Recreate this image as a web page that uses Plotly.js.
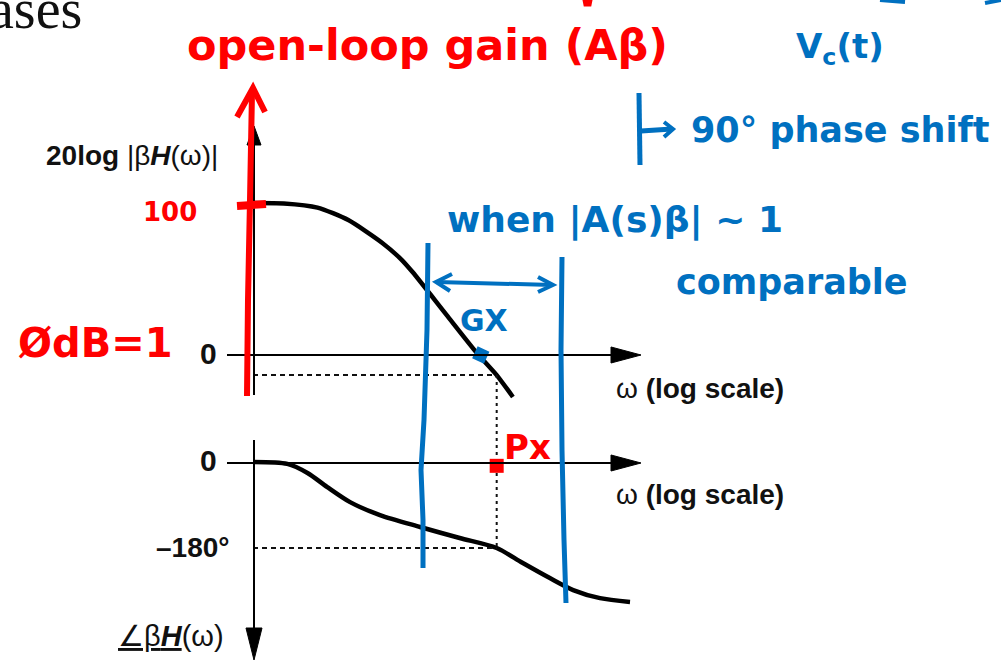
<!DOCTYPE html>
<html>
<head>
<meta charset="utf-8">
<script src="https://cdn.plot.ly/plotly-3.0.1.min.js"></script>
<style>html,body{margin:0;padding:0;background:#fff;}#chart{width:1001px;height:661px;}</style>
</head>
<body>
<div id="chart"></div>
<script>
// ---- data ----
const magOmega = [1, 3, 10, 30, 100, 200, 300, 1000, 3000, 6000, 10700];
const magDb    = [100, 99.7, 97.0, 88.8, 73.9, 62.8, 54.4, 26.4, 1.0, -13.2, -27.6];
const phOmega  = [1, 3.4, 7, 14, 32, 93, 390, 1600, 6000, 15000, 40000, 92000, 240000, 700000];
const phDeg    = [0, -4, -23, -52, -84, -111, -136, -159, -180, -211, -243, -268, -285, -293];
const gainCross = {omega: 3400, db: 0};        // GX
const phaseCross = {omega: 6000, deg: -180, gainDb: -13.2}; // PX
const pxMark = {omega: 6000, deg: -8};

// ---- layout helpers ----
const W = 1001, H = 661;
const magRange = [-201.32, 233.55];
const phRange = [-416.51, 966.97];
const fx = p => p / W;
const fy = p => 1 - p / H;
function pth(pts, close) {
  return pts.map((p, i) => (i ? 'L' : 'M') + fx(p[0]).toFixed(5) + ',' + fy(p[1]).toFixed(5)).join(' ') + (close ? ' Z' : '');
}
// convert a magnitude value to the phase axis value at the same height
function dbToDeg(db) {
  const f = (db - magRange[0]) / (magRange[1] - magRange[0]);
  return phRange[0] + f * (phRange[1] - phRange[0]);
}

const RED = '#ff0000', BLUE = '#0070c0';

const traces = [
  {x: magOmega, y: magDb, mode: 'lines', xaxis: 'x', yaxis: 'y',
   line: {color: '#000', width: 4.5, shape: 'spline', smoothing: 0.6}, hoverinfo: 'skip'},
  {x: phOmega, y: phDeg, mode: 'lines', xaxis: 'x', yaxis: 'y2',
   line: {color: '#000', width: 4.5, shape: 'spline', smoothing: 0.8}, hoverinfo: 'skip'},
  {x: [1, phaseCross.omega], y: [phaseCross.gainDb, phaseCross.gainDb], mode: 'lines', yaxis: 'y',
   line: {color: '#111', width: 2, dash: '5px,4px'}, hoverinfo: 'skip'},
  {x: [1, phaseCross.omega], y: [phaseCross.deg, phaseCross.deg], mode: 'lines', yaxis: 'y2',
   line: {color: '#111', width: 2, dash: '5px,4px'}, hoverinfo: 'skip'},
  {x: [phaseCross.omega, phaseCross.omega], y: [dbToDeg(phaseCross.gainDb), phaseCross.deg], mode: 'lines', yaxis: 'y2',
   line: {color: '#111', width: 2, dash: '3px,4px'}, hoverinfo: 'skip'},
  {x: [gainCross.omega], y: [gainCross.db], mode: 'markers', yaxis: 'y',
   marker: {symbol: 'square', size: 13, color: BLUE, angle: 25}, hoverinfo: 'skip'},
  {x: [pxMark.omega], y: [pxMark.deg], mode: 'markers', yaxis: 'y2',
   marker: {symbol: 'square', size: 14, color: RED}, hoverinfo: 'skip'}
];

function L(pts, color, width, close, fill) {
  return {type: 'path', xref: 'paper', yref: 'paper', path: pth(pts, close),
          line: {color: color, width: width}, fillcolor: fill || 'rgba(0,0,0,0)', layer: 'above'};
}

const shapes = [
  // printed axes
  L([[254,395],[254,140]], '#000', 2),
  L([[247,145],[254,126],[261,145]], '#000', 1, true, '#000'),
  L([[227,355],[615,355]], '#000', 2),
  L([[611,347],[641,355],[611,363]], '#000', 1, true, '#000'),
  L([[227,463],[615,463]], '#000', 2),
  L([[611,455],[641,463],[611,471]], '#000', 1, true, '#000'),
  L([[254,440],[254,632]], '#000', 2),
  L([[246,628],[254,660],[262,628]], '#000', 1, true, '#000'),
  // red handwriting strokes
  L([[247,396],[248,300],[250,200],[252,92]], RED, 6),
  L([[237,117],[253,88],[265,112]], RED, 6),
  L([[237,206],[266,204]], RED, 8),
  L([[584,0],[591,0],[590,5],[585,5]], RED, 3, true, RED),
  // blue handwriting strokes
  L([[428,243],[427,330],[424,420],[421,470],[423,520],[423,568]], BLUE, 5),
  L([[562,257],[561,350],[562,450],[564,540],[566,603]], BLUE, 5),
  L([[437,282],[553,285]], BLUE, 4),
  L([[452,274],[436,282],[450,291]], BLUE, 4),
  L([[538,277],[553,285],[538,292]], BLUE, 4),
  L([[639,93],[640,165]], BLUE, 5),
  L([[641,131],[672,129]], BLUE, 5),
  L([[664,122],[673,129],[664,137]], BLUE, 4),
  L([[880,0],[905,2]], BLUE, 4),
  L([[985,3],[1001,0]], BLUE, 4)
];

function T(text, x, y, size, color, family, extra) {
  return Object.assign({text: text, x: fx(x), y: fy(y), xref: 'paper', yref: 'paper',
    xanchor: 'center', yanchor: 'middle', showarrow: false,
    font: {size: size, color: color, family: family}}, extra || {});
}
const SANS = 'Liberation Sans, Arial, sans-serif';
const HAND = 'DejaVu Sans, sans-serif';

const annotations = [
  T('ases', 35, 9, 56, '#111', 'Liberation Serif, serif'),
  T('<b>20log</b> |β<b><i>H</i></b>(ω)|', 132, 156, 28, '#111', SANS),
  T('<b>0</b>', 208, 353, 30, '#111', SANS),
  T('<b>0</b>', 208, 460, 30, '#111', SANS),
  T('<b>–180°</b>', 193, 547, 28, '#111', SANS),
  T('<u>∠β<b><i>H</i></b></u>(ω)', 171, 636, 29, '#111', SANS),
  T('ω <b>(log scale)</b>', 700, 388, 28, '#111', SANS),
  T('ω <b>(log scale)</b>', 700, 494, 28, '#111', SANS),
  T('<b>open-loop gain (Aβ)</b>', 427, 45, 43, RED, HAND),
  T('<b>100</b>', 170, 212, 26, RED, HAND),
  T('<b>ØdB=1</b>', 95, 343, 40, RED, HAND),
  T('<b>Px</b>', 527, 447, 34, RED, HAND),
  T('<b>V<sub>c</sub>(t)</b>', 840, 48, 34, BLUE, HAND),
  T('<b>90° phase shift</b>', 840, 130, 35, BLUE, HAND),
  T('<b>when |A(s)β| ~ 1</b>', 615, 220, 36, BLUE, HAND),
  T('<b>comparable</b>', 792, 282, 35, BLUE, HAND),
  T('<b>GX</b>', 484, 320, 30, BLUE, HAND)
];

const layout = {
  width: W, height: H,
  margin: {l: 0, r: 0, t: 0, b: 0},
  paper_bgcolor: '#fff', plot_bgcolor: '#fff',
  showlegend: false,
  xaxis: {type: 'log', range: [-3.9225, 11.5969], domain: [0, 1], visible: false, fixedrange: true},
  yaxis: {range: magRange, domain: [0, 1], visible: false, fixedrange: true},
  yaxis2: {range: phRange, overlaying: 'y', visible: false, fixedrange: true},
  shapes: shapes,
  annotations: annotations
};

Plotly.newPlot('chart', traces, layout, {displayModeBar: false, staticPlot: true});
</script>
</body>
</html>
